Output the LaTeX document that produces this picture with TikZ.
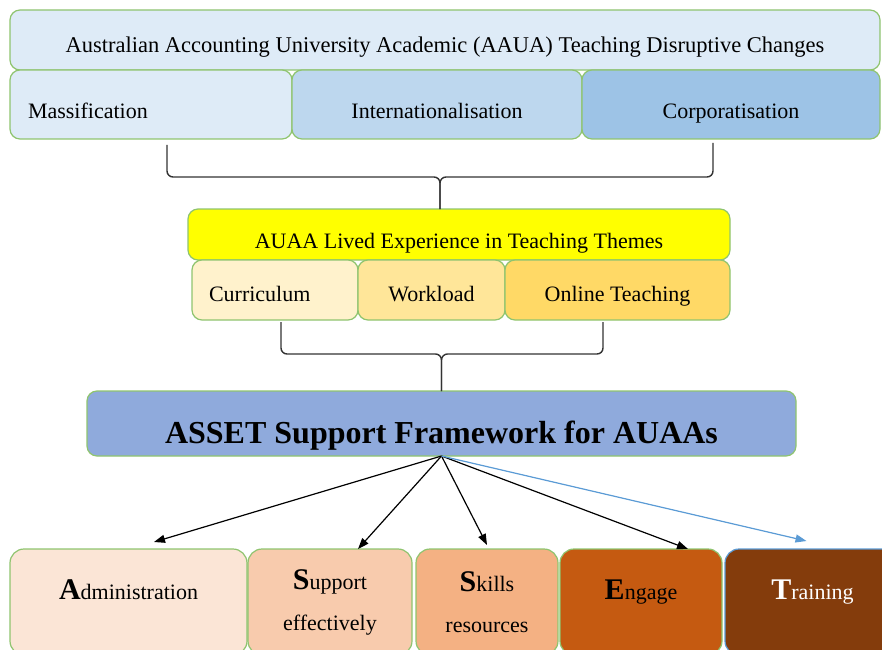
\documentclass[tikz,border=0pt]{standalone}
\usepackage{fontspec}
\setmainfont{Liberation Serif}
\usetikzlibrary{arrows.meta, positioning}
\definecolor{lineGreen}{HTML}{8FC46F}
\definecolor{paleBlue}{HTML}{DEEBF7}
\definecolor{midBlue}{HTML}{BDD7EE}
\definecolor{deepBlue}{HTML}{9DC3E6}
\definecolor{frameBlue}{HTML}{8FAADC}
\definecolor{themeYellow}{HTML}{FFFF00}
\definecolor{cream}{HTML}{FFF2CC}
\definecolor{sand}{HTML}{FFE699}
\definecolor{gold}{HTML}{FFD966}
\definecolor{peach}{HTML}{FBE5D6}
\definecolor{apricot}{HTML}{F8CBAD}
\definecolor{salmon}{HTML}{F4B183}
\definecolor{rust}{HTML}{C55A11}
\definecolor{brown}{HTML}{843C0C}
\definecolor{sky}{HTML}{5B9BD5}
\newcommand{\bigletter}[1]{{\fontsize{30}{30}\selectfont\bfseries #1}}
\tikzstyle{band} = [rectangle, rounded corners = 10pt, draw = lineGreen, line width = 1.2pt, inner sep = 0pt, outer sep = 0pt, font = \fontsize{22}{26}\selectfont, align = center, text depth = 1pt]
\tikzstyle{pillar} = [band, rounded corners = 14pt, minimum height = 106pt, font = \fontsize{22}{41}\selectfont, text depth = {}]
\tikzstyle{oneline} = [text height = 20pt, text depth = 26pt]
\tikzstyle{arrow} = [line width = 1.2pt, -{Triangle[length = 11pt, width = 8pt]}]
\tikzstyle{brace} = [line width = 1.4pt, draw = black!80, rounded corners = 6pt]

\begin{document}
\begin{tikzpicture}[x = 1pt, y = 1pt]
\useasboundingbox (0, 0) rectangle (882, 649);

%NODES
\node (title) [band, fill = paleBlue, minimum width = 870pt, minimum height = 60pt, font = \fontsize{22.5}{26}\selectfont, text height = 27pt] at (445, 609) {Australian Accounting University Academic (AAUA) Teaching Disruptive Changes};
\node (mass) [band, fill = paleBlue, minimum height = 69pt, inner xsep = 18pt, text width = 246pt, align = left, text height = 29pt, below right = 0pt and 0pt of title.south west] {Massification};
\node (intl) [band, fill = midBlue, minimum width = 290pt, minimum height = 69pt, text height = 29pt, right = 0pt of mass] {Internationalisation};
\node (corp) [band, fill = deepBlue, minimum width = 298pt, minimum height = 69pt, text height = 29pt, right = 0pt of intl] {Corporatisation};

\node (themes) [band, fill = themeYellow, minimum width = 542pt, minimum height = 51pt, text height = 28pt] at (459, 414.5) {AUAA Lived Experience in Teaching Themes};
\node (cur) [band, fill = cream, minimum height = 60pt, inner xsep = 17pt, text width = 132pt, align = left, text height = 24pt, below right = 0pt and 4pt of themes.south west] {Curriculum};
\node (work) [band, fill = sand, minimum width = 147pt, minimum height = 60pt, text height = 24pt, right = 0pt of cur] {Workload};
\node (online) [band, fill = gold, minimum width = 225pt, minimum height = 60pt, text height = 24pt, right = 0pt of work] {Online Teaching};

\node (asset) [band, fill = frameBlue, minimum width = 709pt, minimum height = 65pt, font = \fontsize{32}{36}\selectfont\bfseries, text height = 40pt] at (441.5, 225.5) {ASSET Support Framework for AUAAs};

\node (admin) [pillar, oneline, fill = peach, minimum width = 237pt] at (128.5, 47) {\bigletter{A}dministration};
\node (support) [pillar, fill = apricot, minimum width = 164pt, right = 1pt of admin] {\bigletter{S}upport\\effectively};
\node (skills) [pillar, fill = salmon, minimum width = 142pt, right = 4pt of support] {\bigletter{S}kills\\resources};
\node (engage) [pillar, oneline, fill = rust, minimum width = 162pt, right = 2pt of skills] {\bigletter{E}ngage};
\node (training) [pillar, oneline, fill = brown, draw = sky, text = white, minimum width = 175pt, right = 3pt of engage] {\bigletter{T}raining};

%BRACES
\coordinate (b1l) at ([xshift = 16pt, yshift = -6pt]mass.south);
\coordinate (b1r) at ([xshift = -18pt, yshift = -4pt]corp.south);
\coordinate (b1m) at ([xshift = -19pt, yshift = 32pt]themes.north);
\coordinate (b1tip) at ([xshift = -19pt]themes.north);
\draw [brace] (b1l) |- (b1m) -- (b1tip);
\draw [brace] (b1r) |- (b1m) -- (b1tip);

\coordinate (b2l) at ([xshift = 6pt, yshift = -2pt]cur.south);
\coordinate (b2r) at ([xshift = -14.5pt, yshift = -2pt]online.south);
\coordinate (b2m) at ([yshift = 37pt]asset.north);
\draw [brace] (b2l) |- (b2m) -- (asset.north);
\draw [brace] (b2r) |- (b2m) -- (asset.north);

%ARROWS
\draw [arrow] (asset.south) -- ([xshift = 25.5pt, yshift = 7pt]admin.north);
\draw [arrow] (asset.south) -- ([xshift = 28pt]support.north);
\draw [arrow] (asset.south) -- ([yshift = 4pt]skills.north);
\draw [arrow] (asset.south) -- ([xshift = 47pt]engage.north);
\draw [arrow, draw = sky, fill = sky] (asset.south) -- ([xshift = -6pt, yshift = 8pt]training.north);

\end{tikzpicture}
\end{document}
